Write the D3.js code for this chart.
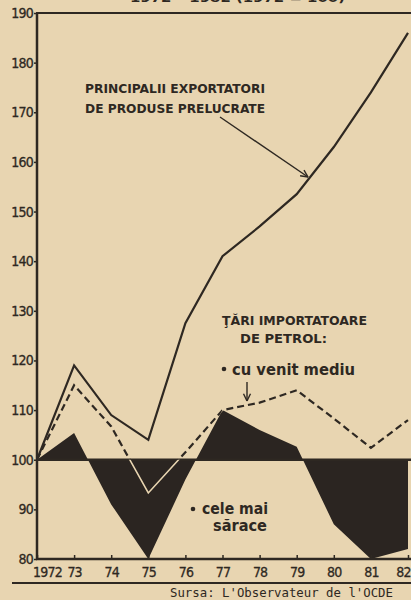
<!DOCTYPE html>
<html>
<head>
<meta charset="utf-8">
<script src="https://cdn.jsdelivr.net/npm/d3@7"></script>
<style>
  body { margin: 0; background: #e8d5b1; }
  svg { display: block; }
  text { fill: #2e2822; }
</style>
</head>
<body>
<svg width="411" height="600"></svg>
<script>
// years on the x axis
const years = [1972, 1973, 1974, 1975, 1976, 1977, 1978, 1979, 1980, 1981, 1982];
const yearLabels = ["1972", "73", "74", "75", "76", "77", "78", "79", "80", "81", "82"];
// index values, 1972 = 100
const exportatori = [100, 119, 109, 104, 127.5, 141, 147, 153.5, 163, 174, 186];
const venitMediu = [100, 115, 106.7, 93.3, 101.5, 110, 111.5, 114, 108.3, 102.4, 108];
const celeMaiSarace = [100, 105.4, 91, 80, 96, 110, 106, 102.6, 87, 80, 82];
const yTicks = [80, 90, 100, 110, 120, 130, 140, 150, 160, 170, 180, 190];

const ink = "#2e2822";
const svg = d3.select("svg");

const x = d3.scaleLinear().domain([1972, 1982]).range([37, 408]);
const y = d3.scaleLinear().domain([80, 190]).range([559, 13]);

// cut-off title at the very top
svg.append("text")
  .attr("x", 130).attr("y", 2)
  .attr("textLength", 215).attr("lengthAdjust", "spacingAndGlyphs")
  .style("font", "bold 13px 'DejaVu Sans Condensed'")
  .text("1972 – 1982 (1972 = 100)");

// black area between "cele mai sarace" and 100
const area = d3.area()
  .x((d, i) => x(years[i]))
  .y0(y(100))
  .y1(d => y(d));

svg.append("clipPath").attr("id", "blackClip")
  .append("path").attr("d", area(celeMaiSarace));

svg.append("path")
  .attr("d", area(celeMaiSarace))
  .attr("fill", "#2b2521");

// baseline 100
svg.append("line")
  .attr("x1", x(1972)).attr("x2", 411)
  .attr("y1", y(100)).attr("y2", y(100))
  .attr("stroke", ink).attr("stroke-width", 2.5);

const line = d3.line().x((d, i) => x(years[i])).y(d => y(d));

// dashed line, white where it crosses the black area
svg.append("path")
  .attr("d", line(venitMediu))
  .attr("fill", "none").attr("stroke", ink)
  .attr("stroke-width", 2.2).attr("stroke-dasharray", "7,4");
svg.append("path")
  .attr("d", line(venitMediu))
  .attr("clip-path", "url(#blackClip)")
  .attr("fill", "none").attr("stroke", "#e8d5b1")
  .attr("stroke-width", 1.6);

svg.append("path")
  .attr("d", line(exportatori))
  .attr("fill", "none").attr("stroke", ink)
  .attr("stroke-width", 2.2);

// axes
const yAxis = svg.append("g")
  .attr("transform", "translate(" + x(1972) + ",0)")
  .call(d3.axisLeft(y).tickValues(yTicks).tickSize(3).tickPadding(1).tickFormat(d3.format("d")));
yAxis.select(".domain").remove();
yAxis.selectAll("line").attr("stroke", ink).attr("stroke-width", 1.5);
yAxis.selectAll("text")
  .style("font", "14px 'DejaVu Sans Condensed'")
  .attr("letter-spacing", "-0.8")
  .attr("stroke", ink).attr("stroke-width", 0.3)
  .attr("fill", ink);

svg.append("line")
  .attr("x1", x(1972)).attr("x2", x(1972))
  .attr("y1", y(190)).attr("y2", y(80))
  .attr("stroke", ink).attr("stroke-width", 2.5);
svg.append("line")
  .attr("x1", x(1972) - 1).attr("x2", 411)
  .attr("y1", y(190)).attr("y2", y(190))
  .attr("stroke", ink).attr("stroke-width", 2);

const xAxis = svg.append("g")
  .attr("transform", "translate(0," + y(80) + ")")
  .call(d3.axisBottom(x).tickValues(years).tickSize(-4).tickPadding(8)
    .tickFormat((d, i) => yearLabels[i]));
xAxis.select(".domain").remove();
xAxis.selectAll("line").attr("stroke", ink).attr("stroke-width", 1.5);
xAxis.selectAll("text")
  .style("font", "14px 'DejaVu Sans Condensed'")
  .attr("letter-spacing", "-0.8")
  .attr("stroke", ink).attr("stroke-width", 0.3)
  .attr("fill", ink);
xAxis.selectAll("text").filter((d, i) => i === 0).attr("dx", 10);
xAxis.selectAll("text").filter((d, i) => i === years.length - 1).attr("dx", -5);

svg.append("line")
  .attr("x1", x(1972) - 1).attr("x2", 411)
  .attr("y1", y(80)).attr("y2", y(80))
  .attr("stroke", ink).attr("stroke-width", 2.5);

// rule above the source line
svg.append("line")
  .attr("x1", 12).attr("x2", 411)
  .attr("y1", 583).attr("y2", 583)
  .attr("stroke", ink).attr("stroke-width", 2);

svg.append("text")
  .attr("x", 170).attr("y", 597)
  .attr("textLength", 223).attr("lengthAdjust", "spacingAndGlyphs")
  .style("font", "13px 'DejaVu Sans Mono'")
  .attr("fill", "#3d3128")
  .text("Sursa: L'Observateur de l'OCDE");

// annotations
const bold = "bold 13px 'DejaVu Sans Condensed'";
function label(tx, ty, str, len, font) {
  svg.append("text")
    .attr("x", tx).attr("y", ty)
    .attr("textLength", len).attr("lengthAdjust", "spacingAndGlyphs")
    .style("font", font)
    .text(str);
}
label(85, 93, "PRINCIPALII EXPORTATORI", 180, bold);
label(85, 113, "DE PRODUSE PRELUCRATE", 180, bold);
label(222, 325, "ŢĂRI IMPORTATOARE", 145, bold);
label(240, 343, "DE PETROL:", 87, bold);
label(232, 375, "cu venit mediu", 123, "bold 16px 'DejaVu Sans Condensed'");
label(202, 514, "cele mai", 66, "bold 15px 'DejaVu Sans Condensed'");
label(213, 531, "sărace", 54, "bold 15px 'DejaVu Sans Condensed'");

svg.append("circle").attr("cx", 224).attr("cy", 369).attr("r", 2.3).attr("fill", ink);
svg.append("circle").attr("cx", 193).attr("cy", 509).attr("r", 2.3).attr("fill", ink);

// arrows
function arrow(x1, y1, x2, y2) {
  svg.append("line")
    .attr("x1", x1).attr("y1", y1).attr("x2", x2).attr("y2", y2)
    .attr("stroke", ink).attr("stroke-width", 1.4);
  const a = Math.atan2(y2 - y1, x2 - x1);
  const h = 8;
  [a + 0.45, a - 0.45].forEach(function(b) {
    svg.append("line")
      .attr("x1", x2).attr("y1", y2)
      .attr("x2", x2 - h * Math.cos(b)).attr("y2", y2 - h * Math.sin(b))
      .attr("stroke", ink).attr("stroke-width", 1.4);
  });
}
arrow(220, 117, 308, 177);
arrow(247, 382, 247, 401);
</script>
</body>
</html>
